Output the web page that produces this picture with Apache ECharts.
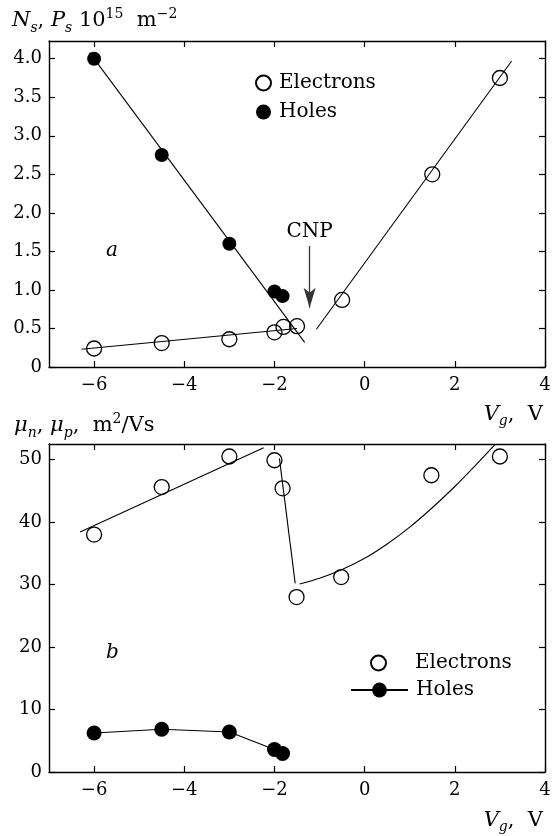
<!DOCTYPE html>
<html><head><meta charset="utf-8">
<script src="https://cdn.jsdelivr.net/npm/echarts@6/dist/echarts.min.js"></script>
<style>html,body{margin:0;padding:0;background:#fff}#c{width:557px;height:836px}</style>
</head><body><div id="c"></div>
<script>
// ---- data ----
const xTicks = [-6, -4, -2, 0, 2, 4];
const nsTicks = [0, 0.5, 1, 1.5, 2, 2.5, 3, 3.5, 4];
const muTicks = [0, 10, 20, 30, 40, 50];

const nsElectrons = [[-6,0.24],[-4.5,0.31],[-3,0.36],[-2,0.45],[-1.8,0.52],[-1.5,0.53],[-0.5,0.87],[1.5,2.5],[3,3.75]];
const nsHoles = [[-6,4.0],[-4.5,2.75],[-3,1.6],[-2,0.98],[-1.82,0.92]];
const nsHoleFit = [[-6.1,4.08],[-1.33,0.32]];
const nsElecFitLow = [[-6.28,0.23],[-1.5,0.5]];
const nsElecFitHigh = [[-1.07,0.49],[3.26,3.97]];
const cnpArrow = [[-1.22,1.57],[-1.22,0.77]];

const muElectrons = [[-6,38.0],[-4.5,45.6],[-3,50.5],[-2,49.9],[-1.82,45.4],[-1.51,28.0],[-0.52,31.2],[1.48,47.5],[3,50.5]];
const muHoles = [[-6,6.25],[-4.5,6.85],[-3,6.4],[-2,3.6],[-1.82,2.95]];
const muFit1 = [[-6.31,38.4],[-2.24,51.9]];
const muFit2 = [[-1.89,50.2],[-1.54,30.2]];
const muFit3 = [[-1.44,30.1],[-1.0,31.0],[-0.5,32.4],[0,34.2],[0.5,36.5],[1.0,39.2],[1.5,42.3],[2.0,45.7],[2.5,49.4],[2.89,52.4]];

// ---- styles ----
const FF = 'DejaVu Serif';
const axisLine = {show:true, onZero:false, lineStyle:{color:'#000', width:1.4}};
const fmtX = v => v < 0 ? '\u2212' + Math.abs(v) : String(v);

function xAxis(grid, pos, showLabel) {
  return {
    type:'value', gridIndex:grid, position:pos, min:-7, max:4,
    axisLine, splitLine:{show:false},
    axisTick:{show:true, inside:true, length:6, customValues:xTicks, lineStyle:{color:'#000', width:1.2}},
    axisLabel:{show:showLabel, customValues:xTicks, formatter:fmtX, color:'#000', fontFamily:FF, fontSize:18, margin:9}
  };
}
function yAxis(grid, pos, max, ticks, fmt, showLabel) {
  return {
    type:'value', gridIndex:grid, position:pos, min:0, max:max,
    axisLine, splitLine:{show:false},
    axisTick:{show:true, inside:true, length:6, customValues:ticks, lineStyle:{color:'#000', width:1.2}},
    axisLabel:{show:showLabel, customValues:ticks, formatter:fmt, color:'#000', fontFamily:FF, fontSize:18, margin:7}
  };
}
const fitLine = (data, xi, yi, smooth) => ({
  type:'line', data, xAxisIndex:xi, yAxisIndex:yi, symbol:'none', smooth:smooth || false,
  lineStyle:{color:'#000', width:1.1}, silent:true, z:2
});
const openCircle = {color:'rgba(0,0,0,0)', borderColor:'#000', borderWidth:1.3, opacity:1};

const chart = echarts.init(document.getElementById('c'), null, {renderer:'canvas'});
const rich = {
  i:{fontFamily:FF, fontStyle:'italic', fontSize:21, lineHeight:28, color:'#000'},
  r:{fontFamily:FF, fontSize:21, lineHeight:28, color:'#000'},
  sub:{fontFamily:FF, fontStyle:'italic', fontSize:14, lineHeight:14, verticalAlign:'bottom', color:'#000'},
  sup:{fontFamily:FF, fontSize:14, lineHeight:14, verticalAlign:'top', color:'#000'}
};
const legText = {fontFamily:FF, fontSize:20, color:'#000', padding:[0,0,0,3]};
chart.setOption({
  animation:false,
  backgroundColor:'#fff',
  grid:[
    {left:49, top:41, width:496, height:326},
    {left:49, top:444, width:496, height:328}
  ],
  xAxis:[ xAxis(0,'bottom',true), xAxis(0,'top',false), xAxis(1,'bottom',true), xAxis(1,'top',false) ],
  yAxis:[
    yAxis(0,'left',4.23,nsTicks,v => v === 0 ? '0' : v.toFixed(1),true),
    yAxis(0,'right',4.23,nsTicks,null,false),
    yAxis(1,'left',52.5,muTicks,v => String(v),true),
    yAxis(1,'right',52.5,muTicks,null,false)
  ],
  legend:[
    {data:['Electrons','Holes'], orient:'vertical', left:250, top:68, itemWidth:15, itemHeight:15, itemGap:9,
     textStyle:legText, selectedMode:false},
    {data:['Electrons_b'], left:365, top:648, itemWidth:57, itemHeight:15, formatter:n => n.replace('_b',''),
     textStyle:legText, selectedMode:false},
    {data:['Holes_b'], left:345, top:675, itemWidth:57, itemHeight:18.5, formatter:n => n.replace('_b',''),
     textStyle:legText, selectedMode:false}
  ],
  series:[
    fitLine(nsHoleFit,0,0),
    fitLine(nsElecFitLow,0,0),
    Object.assign(fitLine(nsElecFitHigh,0,0), {
      markLine:{silent:true, symbol:['none','arrow'], symbolSize:[9,20],
        lineStyle:{color:'#333', width:1.3, type:'solid'},
        label:{show:true, position:'start', formatter:'CNP', color:'#000', fontFamily:FF, fontSize:20, distance:4},
        data:[[{coord:cnpArrow[0]},{coord:cnpArrow[1]}]]}
    }),
    {type:'scatter', name:'Electrons', data:nsElectrons, xAxisIndex:0, yAxisIndex:0, symbol:'circle', symbolSize:15, itemStyle:openCircle, z:3},
    {type:'scatter', name:'Holes', data:nsHoles, xAxisIndex:0, yAxisIndex:0, symbol:'circle', symbolSize:14, itemStyle:{color:'#000', opacity:1}, z:4},

    fitLine(muFit1,2,2),
    fitLine(muFit2,2,2),
    fitLine(muFit3,2,2,0.3),
    {type:'scatter', name:'Electrons_b', data:muElectrons, xAxisIndex:2, yAxisIndex:2, symbol:'circle', symbolSize:15, itemStyle:openCircle, z:3},
    {type:'line', name:'Holes_b', data:muHoles, xAxisIndex:2, yAxisIndex:2, symbol:'circle', symbolSize:15, showSymbol:true,
     lineStyle:{color:'#000', width:1.1}, itemStyle:{color:'#000', opacity:1}, z:4}
  ],
  graphic:[
    {type:'text', left:12, top:7, style:{text:'{i|N}{sub|s}{r|, }{i|P}{sub|s}{r| 10}{sup|15}{r|  m}{sup|\u22122}', rich}},
    {type:'text', left:14, top:412, style:{text:'{i|\u03bc}{sub|n}{r|, }{i|\u03bc}{sub|p}{r|,  m}{sup|2}{r|/Vs}', rich}},
    {type:'text', right:14, top:404, style:{text:'{i|V}{sub|g}{r|,  V}', rich}},
    {type:'text', right:14, top:810, style:{text:'{i|V}{sub|g}{r|,  V}', rich}},
    {type:'text', left:106, top:241, style:{text:'a', fontFamily:FF, fontStyle:'italic', fontSize:20, fill:'#000'}},
    {type:'text', left:106, top:643, style:{text:'b', fontFamily:FF, fontStyle:'italic', fontSize:20, fill:'#000'}}
  ]
});
</script></body></html>
